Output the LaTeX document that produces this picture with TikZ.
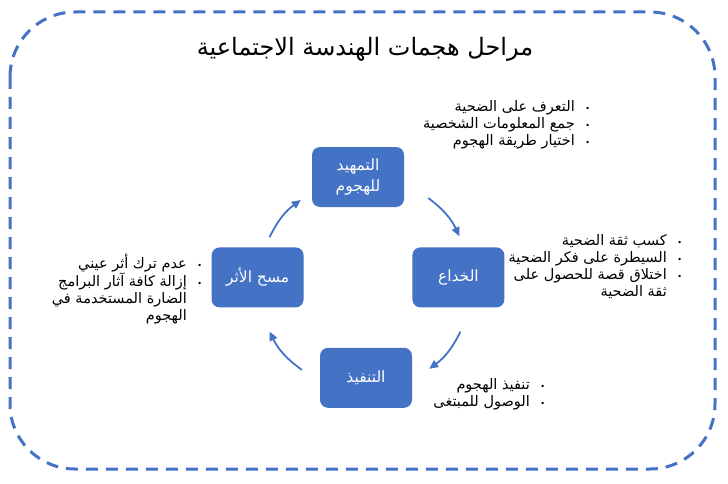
\documentclass[tikz,border=0pt]{standalone}
\usepackage{fontspec}
\setmainfont{DejaVu Sans}
\newfontfamily\arabicfont[Script=Arabic]{DejaVu Sans}
\TeXXeTstate=1
\usetikzlibrary{arrows.meta,positioning}
\definecolor{officeblue}{HTML}{4472C4}
\newcommand{\stagept}[1]{\beginR\makebox[26pt]{\fontsize{8}{8}\selectfont\textbullet}#1\endR}
\newcommand{\stagecont}[1]{\beginR\makebox[26pt]{}#1\endR}

\begin{document}
\begin{tikzpicture}[
    x=1pt, y=1pt,
    node distance=40pt and 8pt,
    stage/.style={rectangle, rounded corners=8pt, fill=officeblue, text=white, minimum width=92pt, minimum height=60pt, align=center, font=\arabicfont\fontsize{15.5}{21}\selectfont},
    points/.style={anchor=north east, inner sep=0pt, align=right, font=\arabicfont\fontsize{14.5}{17}\selectfont},
    flow/.style={-{Triangle[length=9pt, width=8pt]}, line width=1.8pt, draw=officeblue, bend left=14},
]
    \useasboundingbox (0,0) rectangle (728,483);
    \draw[officeblue, line width=3pt, dash pattern=on 12pt off 8pt, rounded corners=65pt] (10,471) rectangle (715,14);

    \node[font=\arabicfont\fontsize{24}{28}\selectfont] (title) at (365,434) {\beginR مراحل هجمات الهندسة الاجتماعية\endR};

    \node[stage] (tamhid) at (358,306) {\beginR التمهيد\endR\\\beginR للهجوم\endR};
    \node[stage, below right=of tamhid] (khida) {\beginR الخداع\endR};
    \node[stage, below left=40pt and 0pt of khida] (tanfidh) {\beginR التنفيذ\endR};
    \node[stage, below left=of tamhid] (athar) {\beginR مسح الأثر\endR};

    \draw[flow] ([xshift=24pt, yshift=-21pt]tamhid.east) to ([xshift=1pt, yshift=11pt]khida.north);
    \draw[flow] ([xshift=2pt, yshift=-24pt]khida.south) to ([xshift=17pt, yshift=9pt]tanfidh.east);
    \draw[flow] ([xshift=-18pt, yshift=8pt]tanfidh.west) to ([xshift=12pt, yshift=-24pt]athar.south);
    \draw[flow] ([xshift=12pt, yshift=10pt]athar.north) to ([xshift=-11pt, yshift=-23pt]tamhid.west);

    \node[points] (tamhidpts) at (601,383) {\stagept{التعرف على الضحية}\\\stagept{جمع المعلومات الشخصية}\\\stagept{اختيار طريقة الهجوم}};
    \node[points] (khidapts) at (693,249) {\stagept{كسب ثقة الضحية}\\\stagept{السيطرة على فكر الضحية}\\\stagept{اختلاق قصة للحصول على}\\\stagecont{ثقة الضحية}};
    \node[points] (tanfidhpts) at (556,105) {\stagept{تنفيذ الهجوم}\\\stagept{الوصول للمبتغى}};
    \node[points] (atharpts) at (213,229) {\stagept{عدم ترك أثر عيني}\\\stagept{إزالة كافة آثار البرامج}\\\stagecont{الضارة المستخدمة في}\\\stagecont{الهجوم}};
\end{tikzpicture}
\end{document}
